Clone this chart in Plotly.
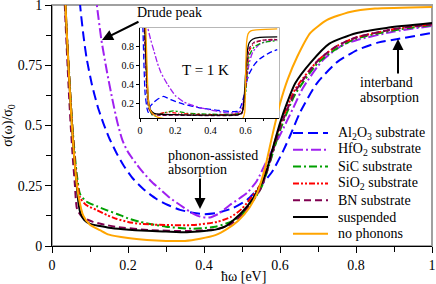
import plotly.graph_objects as go

# ---------------- main panel data (room temperature) ----------------
al2o3_x = [0.060, 0.065, 0.074, 0.083, 0.091, 0.105, 0.120, 0.135, 0.150, 0.170, 0.190, 0.214, 0.245, 0.275, 0.305, 0.337, 0.370, 0.400, 0.434, 0.477, 0.513, 0.547, 0.580, 0.610, 0.630, 0.653, 0.697, 0.750, 0.803, 0.860, 0.910, 1.000]
al2o3_y = [1.45, 1.25, 1.00, 0.87, 0.78, 0.67, 0.58, 0.51, 0.45, 0.385, 0.33, 0.278, 0.23, 0.195, 0.17, 0.15, 0.138, 0.132, 0.137, 0.158, 0.191, 0.245, 0.31, 0.40, 0.47, 0.555, 0.675, 0.763, 0.813, 0.845, 0.859, 0.884]

hfo2_x = [0.095, 0.100, 0.110, 0.118, 0.130, 0.145, 0.160, 0.171, 0.185, 0.200, 0.232, 0.260, 0.284, 0.310, 0.337, 0.365, 0.390, 0.415, 0.440, 0.468, 0.513, 0.539, 0.570, 0.600, 0.634, 0.660, 0.713, 0.766, 0.803, 0.900, 1.000]
hfo2_y = [1.35, 1.25, 1.10, 1.00, 0.855, 0.72, 0.60, 0.52, 0.44, 0.39, 0.32, 0.27, 0.236, 0.20, 0.17, 0.14, 0.122, 0.118, 0.135, 0.17, 0.22, 0.27, 0.37, 0.46, 0.57, 0.655, 0.772, 0.835, 0.855, 0.89, 0.913]

sic_x = [0.025, 0.035, 0.045, 0.055, 0.065, 0.074, 0.090, 0.118, 0.145, 0.171, 0.200, 0.232, 0.270, 0.300, 0.370, 0.430, 0.470, 0.500, 0.550, 0.600, 0.640, 0.700, 0.750, 0.800, 0.900, 1.000]
sic_y = [1.50, 1.00, 0.72, 0.47, 0.30, 0.215, 0.185, 0.165, 0.148, 0.133, 0.115, 0.100, 0.088, 0.080, 0.072, 0.080, 0.100, 0.130, 0.240, 0.480, 0.630, 0.760, 0.820, 0.860, 0.895, 0.917]

sio2_x = [0.025, 0.035, 0.045, 0.055, 0.065, 0.074, 0.090, 0.118, 0.145, 0.171, 0.200, 0.232, 0.300, 0.370, 0.434, 0.470, 0.500, 0.550, 0.600, 0.640, 0.700, 0.750, 0.800, 0.900, 1.000]
sio2_y = [1.50, 1.00, 0.71, 0.46, 0.28, 0.20, 0.17, 0.149, 0.128, 0.112, 0.100, 0.092, 0.087, 0.087, 0.100, 0.120, 0.155, 0.260, 0.500, 0.650, 0.770, 0.830, 0.865, 0.900, 0.920]

bn_x = [0.022, 0.030, 0.035, 0.040, 0.045, 0.050, 0.055, 0.060, 0.066, 0.080, 0.108, 0.140, 0.171, 0.258, 0.355, 0.434, 0.470, 0.500, 0.550, 0.600, 0.640, 0.700, 0.750, 0.800, 0.900, 1.000]
bn_y = [1.55, 1.15, 0.95, 0.78, 0.62, 0.48, 0.36, 0.26, 0.153, 0.120, 0.100, 0.088, 0.079, 0.066, 0.062, 0.070, 0.090, 0.130, 0.240, 0.490, 0.640, 0.770, 0.830, 0.865, 0.900, 0.920]

susp_x = [0.020, 0.030, 0.035, 0.040, 0.045, 0.050, 0.055, 0.060, 0.065, 0.070, 0.075, 0.085, 0.100, 0.126, 0.150, 0.187, 0.250, 0.300, 0.355, 0.400, 0.430, 0.460, 0.500, 0.530, 0.560, 0.580, 0.600, 0.620, 0.640, 0.680, 0.730, 0.800, 0.880, 1.000]
susp_y = [2.00, 1.25, 1.02, 0.85, 0.70, 0.56, 0.44, 0.34, 0.25, 0.175, 0.135, 0.108, 0.092, 0.083, 0.076, 0.070, 0.063, 0.060, 0.057, 0.062, 0.068, 0.085, 0.140, 0.200, 0.290, 0.400, 0.510, 0.600, 0.675, 0.760, 0.840, 0.883, 0.905, 0.925]

noph_x = [0.020, 0.030, 0.035, 0.040, 0.045, 0.050, 0.055, 0.060, 0.065, 0.070, 0.082, 0.100, 0.126, 0.150, 0.200, 0.250, 0.300, 0.350, 0.390, 0.430, 0.460, 0.490, 0.520, 0.540, 0.560, 0.580, 0.600, 0.620, 0.645, 0.680, 0.724, 0.784, 0.850, 1.000]
noph_y = [2.00, 1.25, 1.02, 0.85, 0.70, 0.56, 0.44, 0.34, 0.26, 0.205, 0.127, 0.088, 0.066, 0.047, 0.033, 0.025, 0.021, 0.021, 0.030, 0.045, 0.070, 0.105, 0.160, 0.220, 0.320, 0.460, 0.590, 0.690, 0.784, 0.884, 0.938, 0.971, 0.985, 0.992]

# ---------------- inset data (T = 1 K) ----------------
i_al2o3_x = [0.010, 0.017, 0.023, 0.029, 0.040, 0.047, 0.058, 0.080, 0.100, 0.134, 0.175, 0.250, 0.350, 0.450, 0.550, 0.570, 0.590, 0.605, 0.620, 0.650, 0.680, 0.740, 0.780]
i_al2o3_y = [1.40, 0.97, 0.58, 0.30, 0.14, 0.10, 0.165, 0.21, 0.24, 0.27, 0.235, 0.185, 0.145, 0.12, 0.11, 0.15, 0.27, 0.42, 0.51, 0.61, 0.67, 0.74, 0.77]

i_hfo2_x = [0.035, 0.045, 0.060, 0.080, 0.100, 0.120, 0.156, 0.200, 0.250, 0.290, 0.340, 0.390, 0.440, 0.500, 0.550, 0.575, 0.600, 0.620, 0.640, 0.680, 0.740, 0.780]
i_hfo2_y = [1.20, 1.00, 0.88, 0.75, 0.62, 0.52, 0.40, 0.28, 0.21, 0.18, 0.15, 0.13, 0.11, 0.095, 0.095, 0.12, 0.35, 0.62, 0.74, 0.83, 0.865, 0.875]

i_sic_x = [0.020, 0.030, 0.040, 0.050, 0.070, 0.087, 0.110, 0.146, 0.190, 0.230, 0.270, 0.350, 0.410, 0.540, 0.580, 0.600, 0.620, 0.650, 0.700, 0.780]
i_sic_y = [1.40, 0.80, 0.35, 0.15, 0.07, 0.06, 0.08, 0.10, 0.115, 0.105, 0.09, 0.083, 0.08, 0.08, 0.10, 0.30, 0.70, 0.80, 0.845, 0.865]

i_sio2_x = [0.020, 0.030, 0.040, 0.050, 0.065, 0.090, 0.130, 0.170, 0.220, 0.300, 0.400, 0.540, 0.580, 0.600, 0.620, 0.650, 0.700, 0.780]
i_sio2_y = [1.40, 0.85, 0.40, 0.18, 0.10, 0.08, 0.095, 0.10, 0.09, 0.08, 0.075, 0.08, 0.10, 0.35, 0.75, 0.84, 0.87, 0.88]

i_bn_x = [0.020, 0.030, 0.040, 0.050, 0.070, 0.100, 0.200, 0.300, 0.450, 0.550, 0.580, 0.600, 0.620, 0.650, 0.700, 0.780]
i_bn_y = [1.30, 0.70, 0.30, 0.14, 0.08, 0.07, 0.07, 0.068, 0.065, 0.07, 0.09, 0.40, 0.78, 0.85, 0.87, 0.875]

i_susp_x = [0.020, 0.030, 0.040, 0.050, 0.058, 0.080, 0.117, 0.200, 0.300, 0.400, 0.500, 0.560, 0.580, 0.590, 0.600, 0.610, 0.620, 0.640, 0.680, 0.780]
i_susp_y = [1.50, 0.90, 0.45, 0.20, 0.13, 0.09, 0.08, 0.075, 0.07, 0.07, 0.07, 0.075, 0.10, 0.20, 0.50, 0.75, 0.84, 0.88, 0.90, 0.905]

i_noph_x = [0.025, 0.030, 0.040, 0.047, 0.055, 0.070, 0.100, 0.150, 0.300, 0.500, 0.580, 0.595, 0.600, 0.606, 0.615, 0.630, 0.660, 0.780]
i_noph_y = [1.60, 1.20, 0.60, 0.24, 0.14, 0.09, 0.05, 0.03, 0.02, 0.02, 0.025, 0.10, 0.50, 0.85, 0.94, 0.97, 0.98, 0.99]

# ---------------- labels and styles ----------------
names = ["Al<sub>2</sub>O<sub>3</sub> substrate", "HfO<sub>2</sub> substrate", "SiC substrate",
         "SiO<sub>2</sub> substrate", "BN substrate", "suspended", "no phonons"]
colors = ["#0000ff", "#a020f0", "#00a000", "#ff0000", "#800050", "#000000", "#ffa500"]
dashes = ["10px,5px", "10px,3px,2px,3px", "8px,3px,2px,3px", "6px,2px,2px,2px,2px,2px", "7px,4px", "solid", "solid"]
inset_dashes = ["6px,3px", "6px,2px,2px,2px", "5px,2px,2px,2px", "4px,2px,1px,2px,1px,2px", "4px,2px", "solid", "solid"]

main_series = [(al2o3_x, al2o3_y), (hfo2_x, hfo2_y), (sic_x, sic_y), (sio2_x, sio2_y),
               (bn_x, bn_y), (susp_x, susp_y), (noph_x, noph_y)]
inset_series = [(i_al2o3_x, i_al2o3_y), (i_hfo2_x, i_hfo2_y), (i_sic_x, i_sic_y), (i_sio2_x, i_sio2_y),
                (i_bn_x, i_bn_y), (i_susp_x, i_susp_y), (i_noph_x, i_noph_y)]

FONT = "'Liberation Serif', 'Times New Roman', Times, serif"

fig = go.Figure()
for (xs, ys), c, d in zip(main_series, colors, dashes):
    fig.add_trace(go.Scatter(x=xs, y=ys, mode="lines", line=dict(color=c, width=2, dash=d, shape="spline", smoothing=0.6),
                             showlegend=False, xaxis="x", yaxis="y"))
for (xs, ys), c, d in zip(inset_series, colors, inset_dashes):
    fig.add_trace(go.Scatter(x=xs, y=ys, mode="lines", line=dict(color=c, width=1.3, dash=d, shape="spline", smoothing=0.5),
                             showlegend=False, xaxis="x2", yaxis="y2"))

# geometry (pixels -> paper)
L, R, T, B = 52, 4, 5, 38
W, H = 436, 284
PW, PH = W - L - R, H - T - B
def px(xp):
    return (xp - L) / PW
def py(yp):
    return (H - B - yp) / PH

main_x_ticks = [0, 0.2, 0.4, 0.6, 0.8, 1]
main_y_ticks = [0, 0.25, 0.5, 0.75, 1]
inset_x_ticks = [0, 0.2, 0.4, 0.6]
inset_y_ticks = [0.2, 0.4, 0.6, 0.8]

fig.update_layout(
    width=W, height=H, margin=dict(l=L, r=R, t=T, b=B, autoexpand=False),
    plot_bgcolor="white", paper_bgcolor="white",
    font=dict(family=FONT, size=14, color="black"),
    xaxis=dict(domain=[0, 1], range=[0, 1], tickvals=main_x_ticks, ticktext=[f"{v:g}" for v in main_x_ticks],
               ticks="outside", ticklen=6, tickcolor="black", showline=True, linecolor="black", linewidth=1,
               showgrid=False, zeroline=False, automargin=False, ticklabeloverflow="allow",
               minor=dict(ticks="outside", ticklen=5, dtick=0.1, tick0=0, tickcolor="black"),
               tickfont=dict(size=14, family=FONT)),
    yaxis=dict(domain=[0, 1], range=[0, 1], tickvals=main_y_ticks, ticktext=[f"{v:g}" for v in main_y_ticks],
               ticks="outside", ticklen=6, tickcolor="black", showline=True, linecolor="black", linewidth=1,
               showgrid=False, zeroline=False, automargin=False, ticklabeloverflow="allow",
               minor=dict(ticks="outside", ticklen=5, dtick=0.125, tick0=0, tickcolor="black"),
               title=dict(text="σ(ω)/σ<sub>0</sub>", standoff=6, font=dict(size=14, family=FONT)), tickfont=dict(size=14, family=FONT)),
    xaxis2=dict(domain=[px(140), px(279)], range=[0, 0.79], anchor="y2", tickvals=inset_x_ticks,
                ticktext=[f"{v:g}" for v in inset_x_ticks], ticks="outside", ticklen=3, tickcolor="black",
                showline=True, linecolor="black", linewidth=1, showgrid=False, zeroline=False,
                minor=dict(ticks="outside", ticklen=2, dtick=0.1, tick0=0, tickcolor="black"), tickfont=dict(size=10, family=FONT)),
    yaxis2=dict(domain=[py(118), py(28)], range=[0.04, 1.0], anchor="x2", tickvals=inset_y_ticks,
                ticktext=[f"{v:g}" for v in inset_y_ticks], ticks="outside", ticklen=3, tickcolor="black",
                showline=True, linecolor="black", linewidth=1, showgrid=False, zeroline=False,
                tickfont=dict(size=10, family=FONT)),
)

shapes = [
    dict(type="rect", xref="paper", yref="paper", x0=0, x1=1, y0=0, y1=1, line=dict(color="#a0a0a0", width=2), layer="below"),
    dict(type="rect", xref="paper", yref="paper", x0=px(140), x1=px(279), y0=py(118), y1=py(28),
         line=dict(color="#a0a0a0", width=1.5), layer="below"),
]

annotations = []
# manual legend
leg_top, leg_step = 133, 16.8
for i, (n, c, d) in enumerate(zip(names, colors, dashes)):
    yy = py(leg_top + i * leg_step)
    shapes.append(dict(type="line", xref="paper", yref="paper", x0=px(293), x1=px(328), y0=yy, y1=yy,
                       line=dict(color=c, width=2, dash=d)))
    annotations.append(dict(xref="paper", yref="paper", x=px(336), y=yy, text=n, showarrow=False,
                            xanchor="left", yanchor="middle", font=dict(size=14, family=FONT)))

# text labels
def label(text, xp, yp, size=14, anchor="left"):
    annotations.append(dict(xref="paper", yref="paper", x=px(xp), y=py(yp), text=text, showarrow=False,
                            xanchor=anchor, yanchor="middle", font=dict(size=size, family=FONT)))

label("ħω [eV]", 243, 276, anchor="center")
label("Drude peak", 135, 13)
label("phonon-assisted", 166, 155)
label("absorption", 166, 169)
label("interband", 358, 83)
label("absorption", 358, 98)
label("T = 1 K", 180, 70, 15)

def arrow(x_head, y_head, x_tail, y_tail):
    annotations.append(dict(xref="paper", yref="paper", x=px(x_head), y=py(y_head),
                            axref="pixel", ayref="pixel", ax=x_tail - x_head, ay=y_tail - y_head, text="",
                            showarrow=True, arrowhead=2, arrowsize=1.1, arrowwidth=2, arrowcolor="black"))

arrow(102, 40, 140, 21)
arrow(200, 209, 200, 177)
arrow(398, 39, 398, 75)

fig.update_layout(shapes=shapes, annotations=annotations)
fig.write_html("out.html", config={"displayModeBar": False},
               post_script="document.body.style.margin='0px';")
